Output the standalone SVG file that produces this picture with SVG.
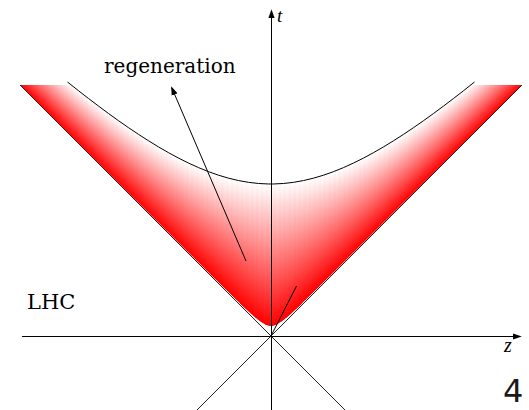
<svg xmlns="http://www.w3.org/2000/svg" xmlns:xlink="http://www.w3.org/1999/xlink" width="529" height="410" viewBox="0 0 529 410">
<style>
.ln{fill:none;stroke:#000;stroke-width:1}
.cone{fill:none;stroke:#222;stroke-width:1}
.lbl{font-family:"DejaVu Serif","Liberation Serif",serif;fill:#000}
.math{font-family:"Liberation Serif","DejaVu Serif",serif;font-style:italic;fill:#000}
</style>
<defs>
<linearGradient id="g" x1="0" y1="1" x2="0" y2="0"><stop offset="0" stop-color="#ff0000"/><stop offset="1" stop-color="#ffffff"/></linearGradient>
<clipPath id="coneClip"><path d="M20,85 L226,289.9 L241,304.38 L251,313.64 L256,317.97 L261,321.86 L265,324.34 L268,325.56 L271,326 L274,325.56 L277,324.34 L281,321.86 L286,317.97 L291,313.64 L301,304.38 L316,289.9 L522,85 Z"/></clipPath>
<marker id="ah" viewBox="0 0 10 7" refX="8" refY="3.5" markerWidth="9" markerHeight="7" markerUnits="userSpaceOnUse" orient="auto"><path d="M0,0 L10,3.5 L0,7 Z" fill="#000"/></marker>
</defs>
<rect width="529" height="410" fill="#fff"/>
<g id="lightcone-region" clip-path="url(#coneClip)">
<rect x="240" y="300" width="62" height="30" fill="#ff0000"/>
<g id="half" transform="matrix(1 1 0 1 0 -271)" fill="url(#g)">
<rect x="266" y="186.48" width="5" height="141.71"/>
<rect x="261" y="191.32" width="5" height="139.69"/>
<rect x="256" y="195.99" width="5" height="136.51"/>
<rect x="251" y="200.50" width="5" height="132.85"/>
<rect x="246" y="204.84" width="5" height="129.03"/>
<rect x="241" y="209.03" width="5" height="125.21"/>
<rect x="236" y="213.06" width="5" height="121.43"/>
<rect x="231" y="216.94" width="5" height="117.75"/>
<rect x="226" y="220.67" width="5" height="114.17"/>
<rect x="221" y="224.25" width="5" height="110.71"/>
<rect x="216" y="227.69" width="5" height="107.37"/>
<rect x="211" y="230.99" width="5" height="104.15"/>
<rect x="206" y="234.15" width="5" height="101.05"/>
<rect x="201" y="237.19" width="5" height="98.08"/>
<rect x="196" y="240.10" width="5" height="95.22"/>
<rect x="191" y="242.88" width="5" height="92.48"/>
<rect x="186" y="245.55" width="5" height="89.84"/>
<rect x="181" y="248.11" width="5" height="87.32"/>
<rect x="176" y="250.57" width="5" height="84.89"/>
<rect x="171" y="252.92" width="5" height="82.57"/>
<rect x="166" y="255.17" width="5" height="80.34"/>
<rect x="161" y="257.33" width="5" height="78.21"/>
<rect x="156" y="259.40" width="5" height="76.16"/>
<rect x="151" y="261.38" width="5" height="74.20"/>
<rect x="146" y="263.28" width="5" height="72.31"/>
<rect x="141" y="265.11" width="5" height="70.50"/>
<rect x="136" y="266.86" width="5" height="68.76"/>
<rect x="131" y="268.54" width="5" height="67.10"/>
<rect x="126" y="270.15" width="5" height="65.50"/>
<rect x="121" y="271.70" width="5" height="63.96"/>
<rect x="116" y="273.19" width="5" height="62.48"/>
<rect x="111" y="274.62" width="5" height="61.06"/>
<rect x="106" y="275.99" width="5" height="59.70"/>
<rect x="101" y="277.31" width="5" height="58.39"/>
<rect x="96" y="278.59" width="5" height="57.12"/>
<rect x="91" y="279.81" width="5" height="55.91"/>
<rect x="86" y="280.99" width="5" height="54.74"/>
<rect x="81" y="282.13" width="5" height="53.60"/>
<rect x="76" y="283.22" width="5" height="52.52"/>
<rect x="71" y="284.28" width="5" height="51.47"/>
<rect x="66" y="285.30" width="5" height="50.45"/>
<rect x="61" y="286.28" width="5" height="49.48"/>
<rect x="56" y="287.23" width="5" height="48.53"/>
<rect x="51" y="288.15" width="5" height="47.62"/>
<rect x="46" y="289.04" width="5" height="46.74"/>
<rect x="41" y="289.89" width="5" height="45.89"/>
<rect x="36" y="290.72" width="5" height="45.06"/>
<rect x="31" y="291.52" width="5" height="44.27"/>
<rect x="26" y="292.30" width="5" height="43.49"/>
<rect x="21" y="293.05" width="5" height="42.75"/>
<rect x="16" y="293.78" width="5" height="42.02"/>
</g>
<use xlink:href="#half" href="#half" transform="translate(542 0) scale(-1 1)"/>
</g>
<g id="hyperbola">
<polyline class="ln" points="67.5,82 78.5,90.72 88.5,98.49 98.5,106.09 108.5,113.49 118.5,120.69 128.5,127.65 138.5,134.36 148.5,140.78 158.5,146.90 168.5,152.67 178.5,158.07 188.5,163.05 198.5,167.60 208.5,171.65 218.5,175.19 228.5,178.17 238.5,180.56 248.5,182.34 258.5,183.49 268.5,183.98 273.5,183.98 283.5,183.49 293.5,182.34 303.5,180.56 313.5,178.17 323.5,175.19 333.5,171.65 343.5,167.60 353.5,163.05 363.5,158.07 373.5,152.67 383.5,146.90 393.5,140.78 403.5,134.36 413.5,127.65 423.5,120.69 433.5,113.49 443.5,106.09 453.5,98.49 463.5,90.72 474.5,82"/>
</g>
<g id="connectors">
<line class="cone" x1="20" y1="85" x2="345" y2="410"/>
<line class="cone" x1="522" y1="85" x2="197" y2="410"/>
<line class="ln" x1="271.5" y1="410" x2="271.5" y2="11" marker-end="url(#ah)"/>
<line class="ln" x1="22" y1="336.5" x2="520" y2="336.5" marker-end="url(#ah)"/>
<line class="ln" x1="246" y1="261" x2="171.8" y2="87.8" marker-end="url(#ah)"/>
<line class="ln" x1="271" y1="336" x2="296.5" y2="286"/>
</g>
<g id="label-regeneration"><text class="lbl" x="104" y="73" font-size="20">regeneration</text></g>
<g id="label-LHC"><text class="lbl" x="27" y="309.3" font-size="21">LHC</text></g>
<g id="label-t"><text class="math" x="277" y="21.5" font-size="19">t</text></g>
<g id="label-z"><text class="math" x="504" y="352" font-size="20">z</text></g>
<g id="label-4"><text x="503" y="401.7" font-family="'DejaVu Sans','Liberation Sans',sans-serif" font-size="32" fill="#1a1a1a">4</text></g>
</svg>
